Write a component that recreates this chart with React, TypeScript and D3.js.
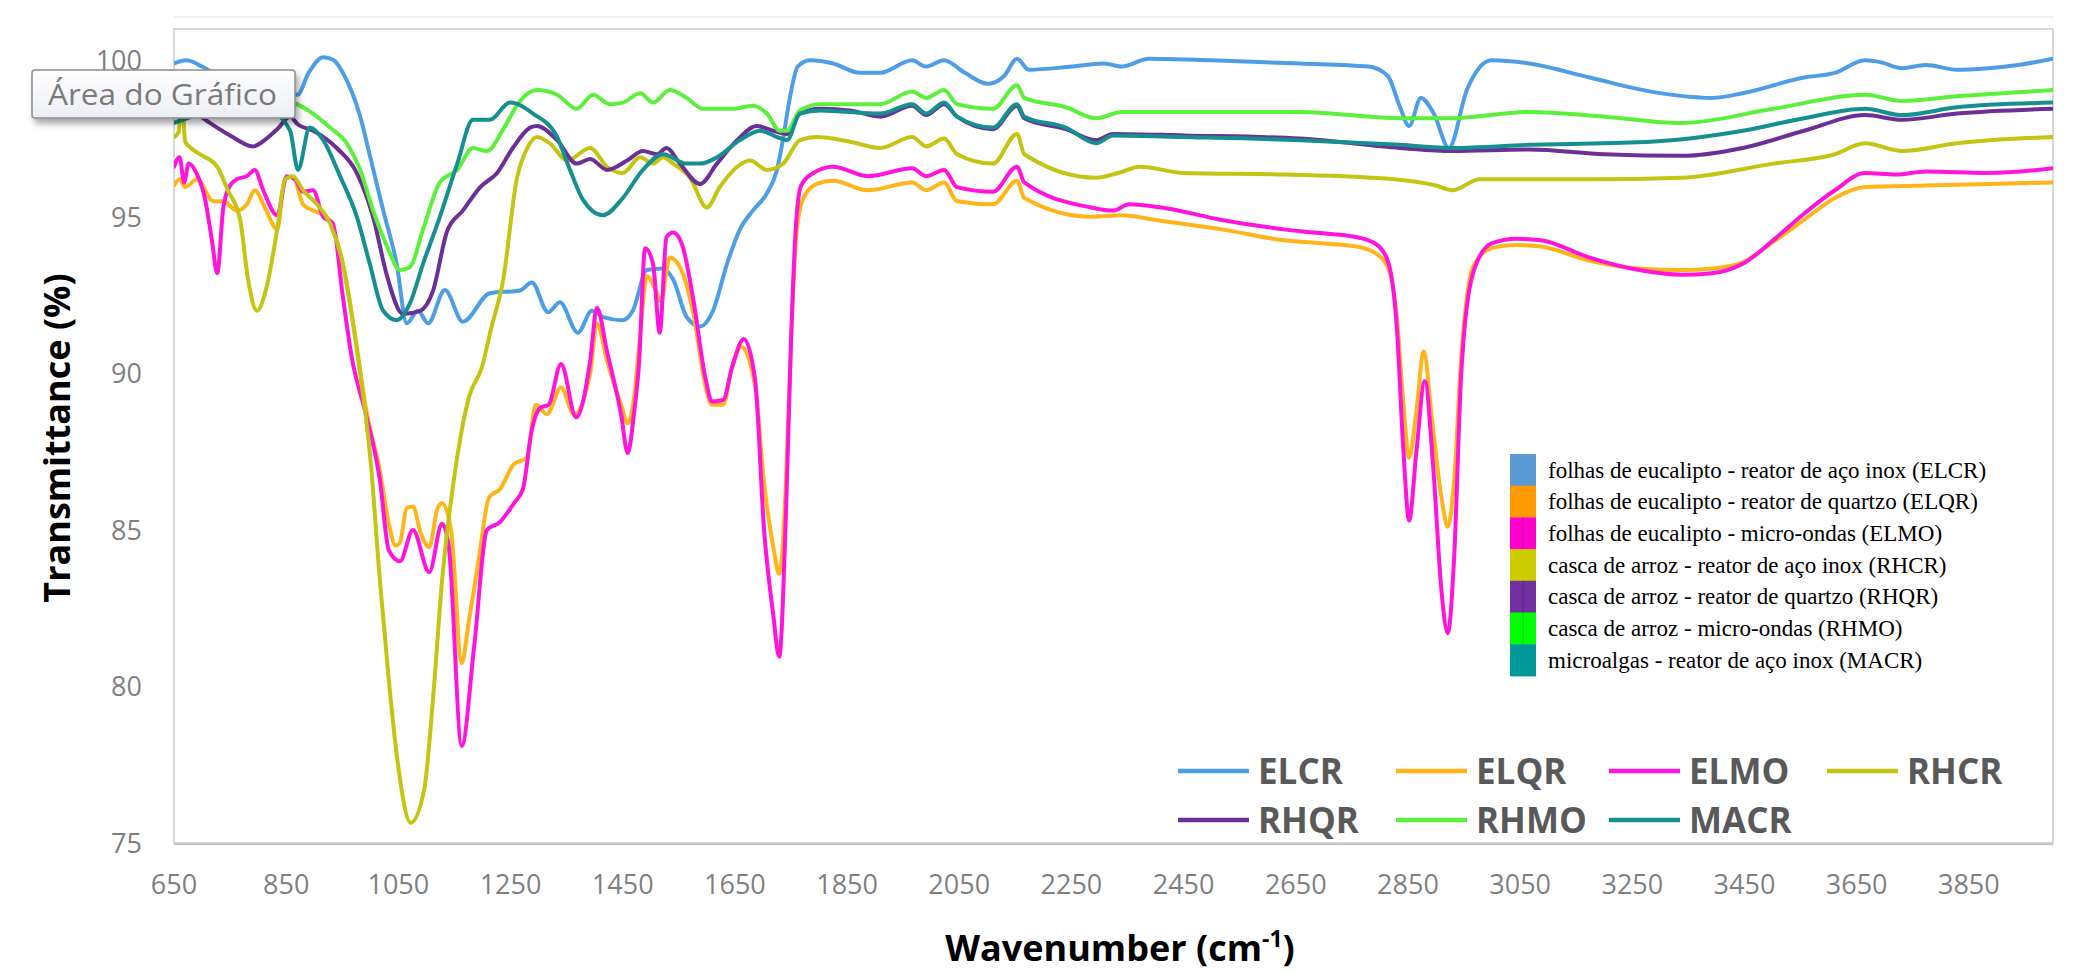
import React from 'react';
import * as d3 from 'd3';

type Pt = [number, number];

// FTIR spectra, [wavenumber cm-1, transmittance %]
const elcr: Pt[] = [
  [650, 99.9], [672, 100.0], [700, 99.8], [720, 99.6], [760, 99.3], [800, 99.2], [840, 99.05], [870, 98.9],
  [890, 99.6], [916, 100.1], [935, 100.0], [951, 99.6], [982, 98.2], [1000, 96.9], [1023, 95.2], [1047, 93.5],
  [1065, 91.6], [1085, 92.0], [1103, 91.6], [1133, 92.66], [1165, 91.65], [1213, 92.56], [1267, 92.65],
  [1288, 92.9], [1317, 91.95], [1338, 92.27], [1370, 91.3], [1395, 92.0], [1415, 91.8], [1450, 91.7],
  [1468, 92.0], [1493, 93.3], [1520, 93.35], [1540, 93.0], [1564, 91.8], [1588, 91.5], [1611, 92.0],
  [1636, 93.5], [1659, 94.6], [1682, 95.2], [1707, 95.75], [1725, 96.5], [1736, 97.5], [1748, 98.8],
  [1762, 99.8], [1784, 100.0], [1825, 99.9], [1873, 99.6], [1909, 99.6], [1966, 100.0], [1990, 99.8],
  [2023, 100.0], [2060, 99.6], [2101, 99.25], [2130, 99.5], [2153, 100.05], [2174, 99.7], [2250, 99.8],
  [2308, 99.9], [2340, 99.8], [2388, 100.05], [2500, 100.0], [2657, 99.9], [2780, 99.8], [2814, 99.5],
  [2836, 98.5], [2852, 97.9], [2873, 98.8], [2896, 98.3], [2923, 97.2], [2955, 99.05], [2999, 100.0],
  [3066, 99.9], [3174, 99.45], [3283, 99.0], [3392, 98.8], [3447, 98.95], [3556, 99.45], [3611, 99.6],
  [3665, 100.0], [3690, 99.95], [3731, 99.75], [3773, 99.85], [3829, 99.7], [3884, 99.75], [3938, 99.85],
  [4000, 100.05],
];

const elqr: Pt[] = [
  [650, 96.0], [660, 96.2], [670, 95.95], [691, 96.2], [720, 95.5], [738, 95.5], [762, 95.2], [780, 95.4],
  [794, 95.85], [812, 95.3], [834, 94.6], [848, 96.2], [862, 96.3], [880, 95.4], [898, 95.2], [922, 95.0],
  [951, 93.5], [976, 90.85], [992, 88.9], [1017, 86.9], [1033, 85.2], [1045, 84.5], [1053, 84.6],
  [1065, 85.7], [1076, 85.75], [1090, 84.9], [1105, 84.45], [1120, 85.7], [1128, 85.85], [1144, 85.0],
  [1163, 80.75], [1175, 82.0], [1192, 83.9], [1212, 86.05], [1231, 86.3], [1256, 87.1], [1279, 87.3],
  [1295, 89.0], [1315, 88.7], [1340, 89.55], [1363, 88.7], [1392, 90.0], [1404, 91.6], [1422, 90.4],
  [1447, 89.0], [1459, 88.4], [1470, 89.2], [1480, 91.0], [1493, 93.1], [1510, 92.6], [1518, 92.3],
  [1534, 93.7], [1557, 93.2], [1575, 92.0], [1600, 89.4], [1609, 89.0], [1629, 89.0], [1645, 90.2],
  [1661, 90.85], [1686, 89.6], [1702, 86.5], [1718, 84.5], [1729, 83.6], [1741, 86.5], [1750, 91.0],
  [1760, 94.5], [1772, 95.6], [1796, 96.05], [1825, 96.15], [1887, 95.85], [1966, 96.1], [1991, 95.85],
  [2023, 96.1], [2046, 95.5], [2110, 95.4], [2153, 96.15], [2166, 95.6], [2285, 95.0], [2340, 95.05],
  [2400, 94.9], [2518, 94.6], [2629, 94.25], [2700, 94.15], [2759, 94.05], [2791, 93.85], [2814, 93.4],
  [2830, 91.8], [2842, 89.0], [2852, 87.3], [2865, 88.8], [2878, 90.7], [2893, 88.5], [2910, 86.0],
  [2921, 85.1], [2932, 86.5], [2945, 90.5], [2966, 93.4], [2999, 94.0], [3043, 94.1], [3087, 94.05],
  [3174, 93.6], [3262, 93.35], [3338, 93.3], [3392, 93.35], [3447, 93.55], [3501, 94.2], [3556, 94.9],
  [3611, 95.6], [3665, 95.95], [3773, 96.0], [3884, 96.05], [4000, 96.1],
];

const elmo: Pt[] = [
  [650, 96.6], [660, 96.9], [668, 96.1], [676, 96.7], [690, 96.4], [705, 95.6], [718, 94.2], [727, 93.2],
  [738, 95.3], [750, 96.0], [762, 96.2], [780, 96.3], [794, 96.5], [809, 95.85], [834, 95.05], [851, 96.3],
  [866, 96.2], [880, 95.8], [898, 95.85], [916, 95.0], [933, 94.8], [951, 92.45], [967, 90.5], [992, 88.7],
  [1017, 86.6], [1033, 84.35], [1053, 84.0], [1076, 85.0], [1105, 83.65], [1128, 85.2], [1140, 84.45],
  [1163, 78.1], [1185, 81.25], [1208, 85.0], [1231, 85.25], [1256, 85.85], [1272, 86.3], [1288, 88.2],
  [1303, 88.9], [1318, 89.0], [1340, 90.3], [1367, 88.6], [1392, 90.4], [1404, 92.1], [1422, 90.7],
  [1447, 88.7], [1459, 87.45], [1470, 88.7], [1479, 90.3], [1490, 94.0], [1504, 93.5], [1516, 91.3],
  [1528, 94.35], [1540, 94.5], [1557, 94.05], [1575, 92.45], [1598, 89.8], [1609, 89.1], [1629, 89.15],
  [1645, 90.2], [1666, 91.1], [1686, 89.8], [1702, 85.0], [1718, 82.35], [1729, 80.95], [1741, 85.5],
  [1750, 91.0], [1758, 94.5], [1768, 96.0], [1790, 96.4], [1825, 96.6], [1887, 96.3], [1966, 96.55],
  [1991, 96.3], [2023, 96.5], [2046, 95.95], [2110, 95.8], [2153, 96.6], [2166, 96.1], [2285, 95.3],
  [2324, 95.2], [2353, 95.4], [2410, 95.3], [2518, 94.9], [2629, 94.6], [2682, 94.5], [2759, 94.35],
  [2791, 94.15], [2814, 93.6], [2830, 91.5], [2842, 87.5], [2852, 85.3], [2865, 87.5], [2880, 89.75],
  [2895, 87.0], [2910, 83.0], [2921, 81.7], [2932, 84.0], [2945, 90.0], [2966, 93.2], [2999, 94.15],
  [3043, 94.3], [3087, 94.25], [3174, 93.7], [3262, 93.3], [3338, 93.15], [3392, 93.2], [3447, 93.5],
  [3501, 94.25], [3556, 95.1], [3611, 95.85], [3665, 96.4], [3720, 96.35], [3773, 96.45], [3884, 96.4],
  [4000, 96.55],
];

const rhcr: Pt[] = [
  [650, 97.55], [658, 97.7], [664, 98.8], [670, 97.4], [680, 97.2], [696, 97.0], [727, 96.6], [746, 95.85], [768, 94.9],
  [782, 93.0], [798, 92.0], [815, 92.75], [834, 94.6], [848, 96.2], [862, 96.3], [880, 95.85], [905, 95.4],
  [928, 94.8], [951, 93.5], [976, 90.75], [1001, 87.1], [1017, 83.4], [1033, 80.2], [1049, 77.55],
  [1072, 75.65], [1096, 76.7], [1112, 79.65], [1128, 83.4], [1153, 87.1], [1176, 89.25], [1199, 90.2],
  [1215, 91.4], [1237, 93.0], [1261, 96.2], [1280, 97.2], [1297, 97.55], [1320, 97.35], [1351, 96.8],
  [1392, 97.2], [1422, 96.6], [1450, 96.4], [1481, 96.9], [1504, 96.7], [1522, 96.9], [1540, 96.7],
  [1570, 96.25], [1600, 95.3], [1623, 95.95], [1654, 96.6], [1677, 96.8], [1707, 96.5], [1736, 96.7],
  [1766, 97.45], [1796, 97.55], [1855, 97.4], [1909, 97.2], [1966, 97.55], [1991, 97.25], [2023, 97.5],
  [2046, 97.0], [2110, 96.7], [2153, 97.65], [2166, 97.0], [2294, 96.25], [2333, 96.4], [2372, 96.6],
  [2450, 96.4], [2629, 96.35], [2825, 96.2], [2900, 96.0], [2929, 95.85], [2978, 96.2], [3174, 96.2],
  [3338, 96.25], [3501, 96.7], [3611, 97.0], [3665, 97.35], [3731, 97.1], [3829, 97.35], [4000, 97.55],
];

const rhqr: Pt[] = [
  [650, 98.5], [680, 98.4], [714, 98.0], [750, 97.6], [791, 97.25], [815, 97.5], [834, 97.8], [857, 98.2],
  [871, 97.95], [898, 97.75], [940, 97.2], [976, 96.4], [1005, 95.0], [1030, 93.1], [1058, 91.9],
  [1089, 92.0], [1112, 92.65], [1137, 94.55], [1165, 95.2], [1196, 95.95], [1226, 96.4], [1254, 97.2],
  [1285, 97.85], [1297, 97.9], [1333, 97.45], [1368, 96.7], [1392, 96.85], [1422, 96.5], [1458, 96.8],
  [1486, 97.1], [1511, 97.0], [1528, 97.2], [1552, 96.7], [1588, 96.05], [1618, 96.7], [1654, 97.45],
  [1689, 97.9], [1718, 97.75], [1743, 97.65], [1766, 98.3], [1802, 98.45], [1855, 98.4], [1909, 98.2],
  [1966, 98.55], [1991, 98.25], [2023, 98.6], [2046, 98.2], [2110, 97.8], [2153, 98.55], [2166, 98.15],
  [2240, 97.8], [2294, 97.45], [2324, 97.65], [2450, 97.6], [2657, 97.5], [2836, 97.2], [2929, 97.1],
  [3066, 97.15], [3200, 97.0], [3338, 96.95], [3447, 97.2], [3556, 97.75], [3665, 98.25], [3731, 98.1],
  [3829, 98.3], [4000, 98.45],
];

const rhmo: Pt[] = [
  [650, 98.7], [700, 98.9], [760, 99.05], [820, 98.9], [869, 98.6], [898, 98.3], [928, 97.85], [958, 97.35],
  [982, 96.5], [1005, 95.2], [1030, 94.05], [1053, 93.3], [1071, 93.4], [1094, 94.6], [1124, 96.1],
  [1155, 96.5], [1183, 97.2], [1208, 97.1], [1237, 97.8], [1267, 98.7], [1297, 99.05], [1333, 98.9],
  [1368, 98.45], [1397, 98.9], [1427, 98.6], [1450, 98.65], [1481, 98.95], [1504, 98.65], [1534, 99.05],
  [1564, 98.8], [1593, 98.45], [1646, 98.45], [1682, 98.55], [1707, 98.3], [1730, 97.75], [1743, 97.75],
  [1766, 98.4], [1802, 98.6], [1909, 98.6], [1966, 99.0], [1991, 98.8], [2023, 99.05], [2046, 98.6],
  [2110, 98.45], [2153, 99.2], [2166, 98.8], [2240, 98.5], [2294, 98.15], [2340, 98.35], [2657, 98.35],
  [2836, 98.15], [2929, 98.15], [3066, 98.35], [3200, 98.2], [3338, 98.0], [3501, 98.45], [3665, 98.9],
  [3731, 98.7], [3829, 98.85], [4000, 99.05],
];

const macr: Pt[] = [
  [650, 98.0], [700, 98.3], [760, 98.5], [820, 98.4], [857, 97.75], [871, 96.5], [892, 97.85], [916, 97.45],
  [946, 96.3], [976, 95.0], [999, 93.5], [1023, 92.0], [1047, 91.7], [1071, 92.25], [1094, 93.5],
  [1124, 95.0], [1155, 96.7], [1183, 98.1], [1213, 98.1], [1249, 98.65], [1290, 98.3], [1333, 97.55],
  [1356, 96.5], [1379, 95.55], [1415, 95.05], [1450, 95.6], [1486, 96.5], [1522, 97.0], [1564, 96.7],
  [1588, 96.7], [1618, 96.9], [1659, 97.45], [1695, 97.75], [1725, 97.55], [1743, 97.45], [1766, 98.3],
  [1802, 98.4], [1909, 98.3], [1966, 98.6], [1991, 98.3], [2023, 98.65], [2046, 98.2], [2110, 97.85],
  [2153, 98.6], [2166, 98.2], [2240, 97.85], [2294, 97.35], [2324, 97.6], [2450, 97.55], [2657, 97.45],
  [2836, 97.3], [2929, 97.2], [3066, 97.3], [3283, 97.4], [3447, 97.75], [3556, 98.15], [3665, 98.45],
  [3731, 98.25], [3829, 98.5], [4000, 98.65],
];

const seriesData = [elcr, elqr, elmo, rhcr, rhqr, rhmo, macr];
const codes = ['ELCR', 'ELQR', 'ELMO', 'RHCR', 'RHQR', 'RHMO', 'MACR'];
const lineColors = ['#4e9ee6', '#ffb51a', '#ff14dc', '#c4c412', '#6b2f95', '#5cf03c', '#158f8f'];
const boxColors = ['#5b9bd5', '#ff9900', '#ff00cc', '#cccc00', '#7030a0', '#00ff00', '#009999'];
const descriptions = [
  'folhas de eucalipto - reator de aço inox (ELCR)',
  'folhas de eucalipto - reator de quartzo (ELQR)',
  'folhas de eucalipto - micro-ondas (ELMO)',
  'casca de arroz - reator de aço inox (RHCR)',
  'casca de arroz - reator de quartzo (RHQR)',
  'casca de arroz - micro-ondas (RHMO)',
  'microalgas - reator de aço inox (MACR)',
];
const xTicks = d3.range(650, 4000, 200);
const yTicks = [75, 80, 85, 90, 95, 100];

export default function App() {
  const W = 2078;
  const H = 973;
  const left = 174, right = 2053, top = 29, bottom = 843;

  const x = d3.scaleLinear().domain([650, 4000]).range([left, right]);
  const y = d3.scaleLinear().domain([75, 101]).range([bottom, top]);
  const line = d3.line<Pt>().x(d => x(d[0])).y(d => y(d[1])).curve(d3.curveMonotoneX);

  const font = "'Open Sans', 'Noto Sans', sans-serif";
  const legendCols = [1178, 1396, 1609, 1827];
  const legendRows = [771, 820];

  return (
    <svg width={W} height={H} style={{ position: 'absolute', left: 0, top: 0, background: '#fff' }}>
      <defs>
        <clipPath id="plot">
          <rect x={left} y={top} width={right - left} height={bottom - top} />
        </clipPath>
        <linearGradient id="tipbg" x1="0" y1="0" x2="0" y2="1">
          <stop offset="0" stopColor="#ffffff" />
          <stop offset="1" stopColor="#eceef4" />
        </linearGradient>
        <filter id="tipshadow" x="-10%" y="-20%" width="130%" height="160%">
          <feDropShadow dx="3" dy="5" stdDeviation="3" floodColor="#000" floodOpacity="0.35" />
        </filter>
      </defs>

      <rect x={0} y={0} width={W} height={H} fill="#fff" />
      <line x1={left} x2={right} y1={17} y2={17} stroke="#f0f0f0" strokeWidth={2} />

      {/* plot area frame */}
      <rect x={left} y={top} width={right - left} height={bottom - top} fill="none" stroke="#d9d9d9" strokeWidth={2} />
      <line x1={left} x2={right} y1={bottom + 1} y2={bottom + 1} stroke="#c8c8c8" strokeWidth={2.5} />

      {/* y ticks */}
      {yTicks.map(t => (
        <text key={t} x={142} y={y(t)} dy="0.36em" textAnchor="end" fontFamily={font} fontSize={27} fill="#7f7f7f">
          {t}
        </text>
      ))}
      {/* x ticks */}
      {xTicks.map(t => (
        <text key={t} x={x(t)} y={884} dy="0.36em" textAnchor="middle" fontFamily={font} fontSize={27} fill="#7f7f7f">
          {t}
        </text>
      ))}

      {/* series */}
      <g clipPath="url(#plot)">
        {seriesData.map((d, i) => (
          <path key={codes[i]} d={line(d) || ''} fill="none" stroke={lineColors[i]} strokeWidth={4}
            strokeLinejoin="round" strokeLinecap="round" />
        ))}
      </g>

      {/* axis titles */}
      <text transform={`translate(57,438) rotate(-90)`} textAnchor="middle" dy="0.35em" fontFamily={font}
        fontWeight={700} fontSize={36} fill="#000">
        Transmittance (%)
      </text>
      <text x={1120} y={961} textAnchor="middle" fontFamily={font} fontWeight={700} fontSize={36} fill="#000">
        Wavenumber (cm<tspan fontSize={23} dy={-14}>-1</tspan><tspan dy={14}>)</tspan>
      </text>

      {/* series legend (bottom) */}
      {codes.map((c, i) => {
        const cx = legendCols[i % 4];
        const cy = legendRows[Math.floor(i / 4)];
        return (
          <g key={c}>
            <line x1={cx} x2={cx + 71} y1={cy} y2={cy} stroke={lineColors[i]} strokeWidth={4.5} />
            <text x={cx + 80} y={cy} dy="0.36em" fontFamily={font} fontWeight={700} fontSize={35} fill="#595959">
              {c}
            </text>
          </g>
        );
      })}

      {/* description legend */}
      {descriptions.map((s, i) => {
        const ry = 454 + i * 31.7;
        return (
          <g key={s}>
            <rect x={1510} y={ry} width={26} height={32.2} fill={boxColors[i]} />
            {(i === 2 || i === 4 || i === 5) && (
              <line x1={1523} x2={1523} y1={ry} y2={ry + 31.7} stroke="#000" strokeOpacity={0.2} strokeWidth={1} />
            )}
            <text x={1548} y={ry + 16 + 7.5} fontFamily="'Liberation Serif', 'Times New Roman', serif" fontSize={23} fill="#000">
              {s}
            </text>
          </g>
        );
      })}

      {/* Excel tooltip */}
      <g filter="url(#tipshadow)">
        <rect x={32} y={70} width={263} height={48} rx={3} fill="url(#tipbg)" stroke="#8c8c8c" strokeWidth={1.5} />
      </g>
      <text x={48} y={105} fontFamily={font} fontSize={30} fill="#7a7a7a" textLength={229} lengthAdjust="spacingAndGlyphs">
        Área do Gráfico
      </text>
    </svg>
  );
}
